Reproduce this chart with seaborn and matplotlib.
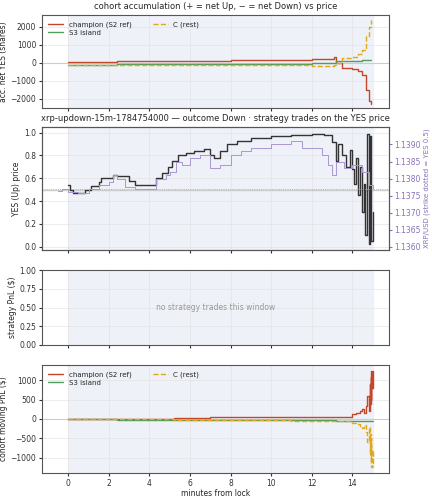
import numpy as np
import pandas as pd
import matplotlib
matplotlib.use("Agg")
import matplotlib.pyplot as plt
import seaborn as sns

# YES price (step series)
yes_t = [0, 0.1, 0.25, 0.8, 1.1, 1.5, 1.6, 2.2, 2.4, 3.0, 3.3, 3.8, 4.3, 4.6, 4.9, 5.1, 5.4, 5.8,
         6.2, 6.7, 7.0, 7.2, 7.5, 7.8, 8.3, 9.0, 10.0, 11.0, 12.0, 12.6, 13.0, 13.2, 13.3, 13.5,
         13.7, 13.9, 14.0, 14.1, 14.2, 14.3, 14.4, 14.5, 14.6, 14.65, 14.75, 14.8, 14.85, 14.9, 15.0]
yes_p = [0.54, 0.5, 0.47, 0.5, 0.53, 0.57, 0.6, 0.63, 0.62, 0.58, 0.54, 0.54, 0.6, 0.65, 0.7, 0.75,
         0.8, 0.82, 0.84, 0.86, 0.8, 0.78, 0.84, 0.9, 0.93, 0.95, 0.97, 0.98, 0.99, 0.98, 0.92, 0.75,
         0.9, 0.8, 0.7, 0.85, 0.68, 0.55, 0.78, 0.45, 0.7, 0.3, 0.55, 0.1, 0.99, 0.02, 0.97, 0.05, 0.3]

# XRP/USD spot
xrp_t = [-0.5, -0.3, 0, 0.5, 1.0, 1.5, 2.0, 2.2, 2.4, 2.8, 3.3, 4.0, 4.3, 4.8, 5.0, 5.3, 5.6, 6.0,
         6.5, 7.0, 7.5, 8.0, 8.5, 9.0, 10.0, 11.0, 11.5, 12.0, 12.5, 12.8, 13.0, 13.2, 13.6, 14.0,
         14.5, 14.8, 15.0]
xrp_p = [1.13765, 1.1377, 1.1376, 1.13758, 1.1377, 1.1378, 1.1379, 1.1381, 1.1380, 1.13775, 1.1377,
         1.1377, 1.1380, 1.1381, 1.1382, 1.1385, 1.1384, 1.1386, 1.1387, 1.1383, 1.1384, 1.1387,
         1.1388, 1.1389, 1.1390, 1.1391, 1.1389, 1.1389, 1.1387, 1.1384, 1.1381, 1.1385, 1.1383,
         1.1384, 1.1382, 1.1378, 1.1377]
strike = 1.1377

# cohort accumulation (net YES shares)
acc_t = [0, 1, 2.4, 4, 6, 8, 10, 12, 13.05, 13.1, 13.2, 13.5, 14.0, 14.3, 14.5, 14.7, 14.8, 14.9]
acc_champ = [50, 60, 90, 100, 130, 150, 180, 210, 220, 300, 0, -300, -350, -450, -700, -1500, -2100, -2300]
acc_crest = [-100, -110, -120, -130, -120, -110, -100, -200, -150, -100, 0, 250, 350, 500, 700, 1500, 2000, 2400]
acc_s3 = [-100, -100, -80, -80, -60, -50, -40, -30, -20, -20, 100, 100, 120, 130, 140, 150, 150, 160]

# cohort moving PnL ($)
pnl_t = [0, 2.4, 5.2, 7, 9, 11, 13.2, 13.7, 14.0, 14.2, 14.4, 14.5, 14.6, 14.7, 14.75, 14.8,
         14.85, 14.88, 14.9, 14.92, 14.94, 14.96, 15.0]
pnl_champ = [0, 10, 30, 40, 50, 55, 50, 60, 120, 150, 200, 250, 150, 350, 600, 200, 900, 400, 1100, 500, 1250, 800, 1250]
pnl_crest = [0, -10, -25, -30, -35, -40, -45, -60, -110, -140, -190, -240, -150, -340, -600, -200, -900, -400, -1100, -500, -1250, -800, -1250]
pnl_s3 = [-10, -20, -30, -35, -35, -35, -40, -45, -50, -50, -50, -50, -50, -50, -50, -50, -50, -50, -50, -50, -50, -50, -50]

C_CHAMP = "#c4472a"
C_REST = "#e0a81c"
C_S3 = "#4f9e5c"
SHADE = "#eef1f8"
FS = 5.5

sns.set_style("ticks")
plt.rcParams["font.family"] = ["DejaVu Sans"]
plt.rcParams["font.size"] = FS

fig = plt.figure(figsize=(4.32, 5.0), dpi=100)
L, W = 0.097, 0.803
ax1 = fig.add_axes([L, 0.784, W, 0.186])
ax2 = fig.add_axes([L, 0.500, W, 0.246], sharex=ax1)
ax3 = fig.add_axes([L, 0.310, W, 0.150], sharex=ax1)
ax4 = fig.add_axes([L, 0.054, W, 0.216], sharex=ax1)

for ax in (ax1, ax2, ax3, ax4):
    ax.axvspan(0, 15, color=SHADE, zorder=0)
    ax.grid(True, color="#e4e4e4", lw=0.5)
    ax.set_axisbelow(True)
    for s in ax.spines.values():
        s.set_color("#555555")
    ax.tick_params(labelsize=FS, length=2.5, pad=1.5, colors="#333333")
ax1.set_xlim(-1.3, 15.8)


def cohort(ax, t, champ, crest, s3):
    df = pd.DataFrame({"t": t, "champ": champ, "crest": crest, "s3": s3})
    sns.lineplot(data=df, x="t", y="champ", ax=ax, color=C_CHAMP, lw=1.0,
                 drawstyle="steps-post", label="champion (S2 ref)")
    sns.lineplot(data=df, x="t", y="s3", ax=ax, color=C_S3, lw=1.0,
                 drawstyle="steps-post", label="S3 island")
    sns.lineplot(data=df, x="t", y="crest", ax=ax, color=C_REST, lw=1.0, ls="--",
                 drawstyle="steps-post", label="C (rest)")
    ax.axhline(0, color="#cccccc", lw=0.8, zorder=1)
    h, l = ax.get_legend_handles_labels()
    ax.legend(h[:3], l[:3], ncol=2, loc="upper left",
              fontsize=5, frameon=False, handlelength=2.2, columnspacing=3,
              labelspacing=0.3)
    ax.set_xlabel("")


cohort(ax1, acc_t, acc_champ, acc_crest, acc_s3)
ax1.set_ylim(-2500, 2650)
ax1.set_yticks([-2000, -1000, 0, 1000, 2000])
ax1.set_ylabel("acc. net YES (shares)", fontsize=FS, labelpad=2)
ax1.set_title("cohort accumulation (+ = net Up, \u2212 = net Down) vs price", fontsize=6, pad=4)

# price panel
sns.lineplot(x=yes_t, y=yes_p, ax=ax2, color="#333333", lw=1.0, drawstyle="steps-post")
ax2.axhline(0.5, color="#cccccc", lw=1.0, zorder=1)
ax2.set_ylim(-0.03, 1.05)
ax2.set_ylabel("YES (Up) price", fontsize=FS, labelpad=2)
ax2.set_title("xrp-updown-15m-1784754000 \u2014 outcome Down \u00b7 strategy trades on the YES price",
              fontsize=6, pad=4)
ax2b = ax2.twinx()
sns.lineplot(x=xrp_t, y=xrp_p, ax=ax2b, color="#a898d0", lw=0.7, drawstyle="steps-post")
ax2b.axhline(strike, color="#a898d0", lw=0.6, ls=":")
ax2b.set_ylim(1.13591, 1.13951)
ax2b.set_yticks([1.1360, 1.1365, 1.1370, 1.1375, 1.1380, 1.1385, 1.1390])
ax2b.yaxis.set_major_formatter(matplotlib.ticker.FormatStrFormatter("%.4f"))
ax2b.tick_params(labelsize=FS, colors="#8a6fb8", length=2.5, pad=1.5)
ax2b.set_ylabel("XRP/USD (strike dotted = YES 0.5)", fontsize=5, color="#8a6fb8", labelpad=2)
for s in ax2b.spines.values():
    s.set_color("#555555")

# strategy PnL panel
ax3.set_ylim(0, 1)
ax3.set_ylabel("strategy PnL ($)", fontsize=FS, labelpad=2)
ax3.text(0.5, 0.5, "no strategy trades this window", transform=ax3.transAxes,
         ha="center", va="center", color="#999999", fontsize=FS)

cohort(ax4, pnl_t, pnl_champ, pnl_crest, pnl_s3)
ax4.set_ylim(-1400, 1400)
ax4.set_yticks([-1000, -500, 0, 500, 1000])
ax4.set_ylabel("cohort moving PnL ($)", fontsize=FS, labelpad=2)
ax4.set_xlabel("minutes from lock", fontsize=FS, labelpad=1)
ax4.set_xticks([0, 2, 4, 6, 8, 10, 12, 14])

for ax in (ax1, ax2, ax3):
    ax.tick_params(labelbottom=False)

fig.savefig("out.png", dpi=100)
